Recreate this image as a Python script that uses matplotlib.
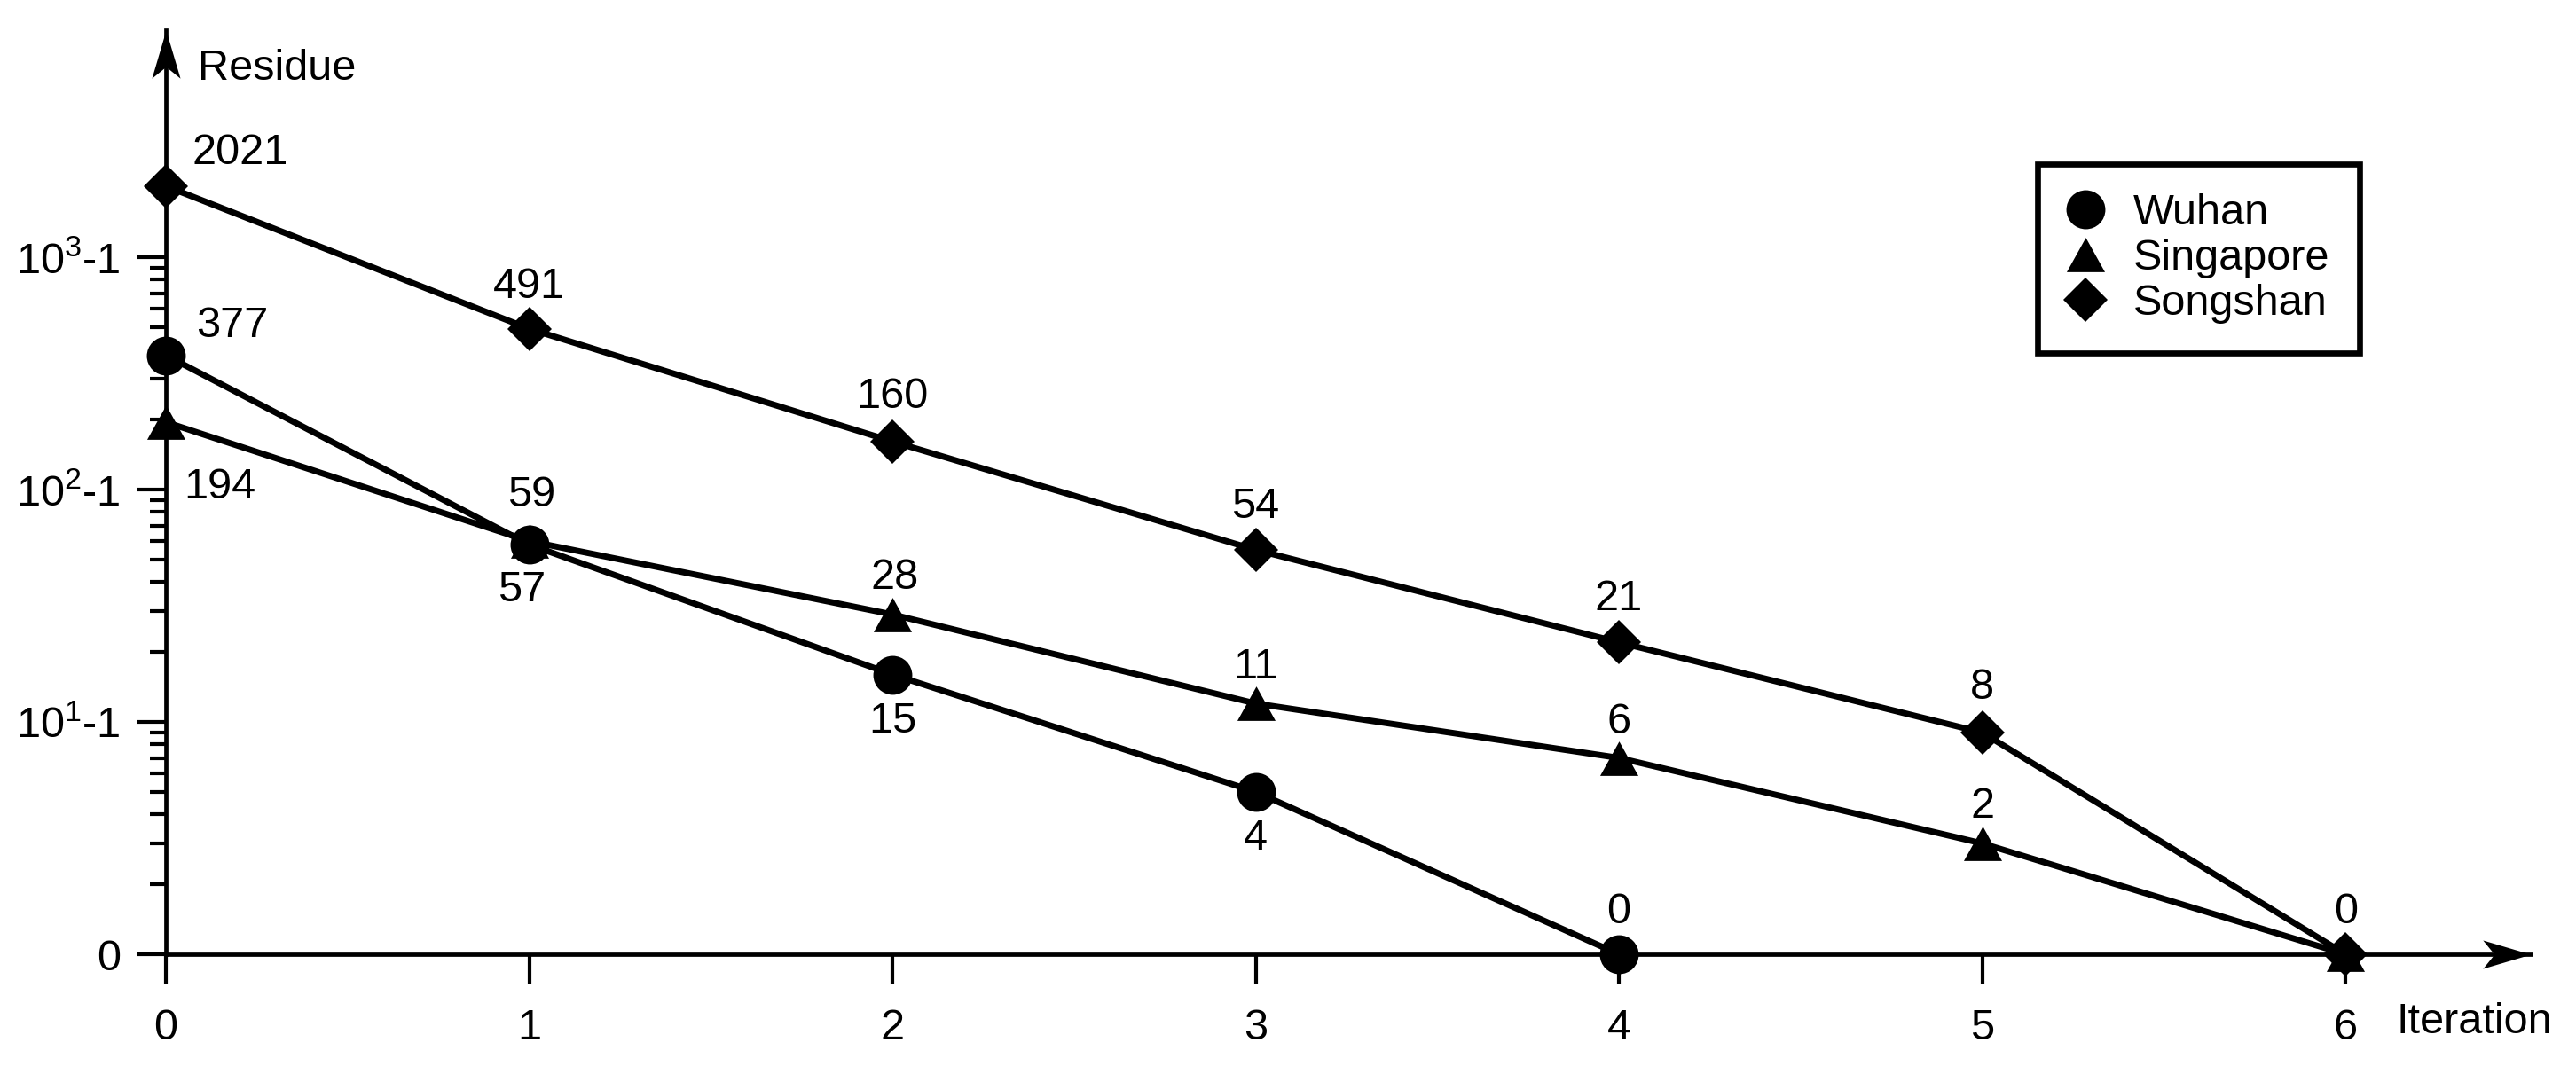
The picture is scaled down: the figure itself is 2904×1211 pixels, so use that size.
import matplotlib
matplotlib.use('Agg')
import matplotlib.pyplot as plt
import numpy as np
from matplotlib.path import Path
from matplotlib.lines import Line2D

plt.rcParams['font.family'] = ['Liberation Sans', 'DejaVu Sans']
plt.rcParams['mathtext.fontset'] = 'custom'
plt.rcParams['mathtext.rm'] = 'Liberation Sans'

# data
iter_wuhan = [0, 1, 2, 3, 4]
residue_wuhan = [377, 57, 15, 4, 0]
iter_singapore = [0, 1, 2, 3, 4, 5, 6]
residue_singapore = [194, 59, 28, 11, 6, 2, 0]
iter_songshan = [0, 1, 2, 3, 4, 5, 6]
residue_songshan = [2021, 491, 160, 54, 21, 8, 0]

y_ticks = [0, 9, 99, 999]
y_ticklabels = ['0', r'$\mathregular{10^{1}}$-1', r'$\mathregular{10^{2}}$-1', r'$\mathregular{10^{3}}$-1']
x_ticks = [0, 1, 2, 3, 4, 5, 6]

# label offsets in points (None = no label)
off_wuhan = [(27, 12), (-3, -18.5), (0, -19), (0, -19), (0, 17)]
off_singapore = [(22, -26.5), (1, 18.5), (1, 15), (0, 14.5), (0, 14.5), (0, 15), None]
off_songshan = [(30, 13.5), (0, 17), (0, 18), (0, 17.5), (0, 17.5), (0, 18), (0, 17)]

FS = 17.5
LW = 2.5
TICK = 11.8


def fwd(v):
    return np.log10(np.asarray(v, dtype=float) + 1)


def inv(y):
    return 10 ** np.asarray(y, dtype=float) - 1


# slightly flattened triangle like the original
tri = Path([(0, 0.9), (-1, -0.9), (1, -0.9), (0, 0.9)],
           [Path.MOVETO, Path.LINETO, Path.LINETO, Path.CLOSEPOLY])

fig = plt.figure(figsize=(14.52, 6.055), dpi=200)
ax = fig.add_axes([187 / 2904, 1 - 1076 / 1211, (2853 - 187) / 2904, (1076 - 34) / 1211])
ax.set_yscale('function', functions=(fwd, inv))

l_sg, = ax.plot(iter_singapore, residue_singapore, color='k', lw=LW, marker=tri, ms=15.5,
                mew=0, clip_on=False, zorder=3, label='Singapore')
l_wh, = ax.plot(iter_wuhan, residue_wuhan, color='k', lw=LW, marker='o', ms=15.8,
                mew=0, clip_on=False, zorder=4, label='Wuhan')
l_ss, = ax.plot(iter_songshan, residue_songshan, color='k', lw=LW, marker='D', ms=12.5,
                mew=0, clip_on=False, zorder=5, label='Songshan')

for xs, ys, offs in [(iter_wuhan, residue_wuhan, off_wuhan),
                     (iter_singapore, residue_singapore, off_singapore),
                     (iter_songshan, residue_songshan, off_songshan)]:
    for x, y, o in zip(xs, ys, offs):
        if o is None:
            continue
        ax.annotate(str(y), xy=(x, y), xytext=o, textcoords='offset points',
                    ha='center', va='center', fontsize=FS)

ax.set_xlim(0, 6.51)
ax.set_ylim(0, inv(3.977))
ax.set_xticks(x_ticks)
ax.set_yticks(y_ticks)
ax.set_yticklabels(y_ticklabels)
ax.set_yticks([k * 10 ** d - 1 for d in range(3) for k in range(2, 10)], minor=True)
ax.xaxis.set_minor_locator(matplotlib.ticker.NullLocator())
ax.tick_params(axis='both', which='major', direction='out', length=TICK, width=1.5,
               labelsize=FS, color='k')
ax.tick_params(axis='x', pad=10)
ax.tick_params(axis='y', pad=6.5)
ax.tick_params(axis='y', which='minor', direction='out', length=6.4, width=1.5)

for s in ['top', 'right']:
    ax.spines[s].set_visible(False)
for s in ['left', 'bottom']:
    ax.spines[s].set_linewidth(1.7)

# arrow heads at the ends of the axes
right_arrow = Path([(0, 0), (-1, 0.296), (-0.76, 0), (-1, -0.296), (0, 0)],
                   [Path.MOVETO, Path.LINETO, Path.LINETO, Path.LINETO, Path.CLOSEPOLY])
up_arrow = Path([(0, 0), (0.296, -1), (0, -0.76), (-0.296, -1), (0, 0)],
                [Path.MOVETO, Path.LINETO, Path.LINETO, Path.LINETO, Path.CLOSEPOLY])
ax.plot(1, 0, marker=right_arrow, ms=39, color='k', mew=0, transform=ax.transAxes,
        clip_on=False, zorder=6)
ax.plot(0, 1, marker=up_arrow, ms=39, color='k', mew=0, transform=ax.transAxes,
        clip_on=False, zorder=6)

ax.annotate('Residue', xy=(0, 1), xycoords='axes fraction', xytext=(13, -15.5),
            textcoords='offset points', ha='left', va='center', fontsize=FS)
ax.annotate('Iteration', xy=(6.14, 0), xytext=(0, -27.5), textcoords='offset points',
            ha='left', va='center', fontsize=FS)

h_wh = Line2D([], [], color='k', lw=0, marker='o', ms=15.8, mew=0)
h_sg = Line2D([], [], color='k', lw=0, marker=tri, ms=15.5, mew=0)
h_ss = Line2D([], [], color='k', lw=0, marker='D', ms=12.5, mew=0)
leg = ax.legend([h_wh, h_sg, h_ss], ['Wuhan', 'Singapore', 'Songshan'],
                loc='upper left', bbox_to_anchor=(0.7914, 0.855), borderaxespad=0,
                fontsize=FS, frameon=True, fancybox=False, edgecolor='k', framealpha=1,
                handlelength=0.85, handletextpad=0.7, labelspacing=0.12, borderpad=0.68)
leg.get_frame().set_linewidth(2.4)

fig.savefig('out.png', dpi=200)
